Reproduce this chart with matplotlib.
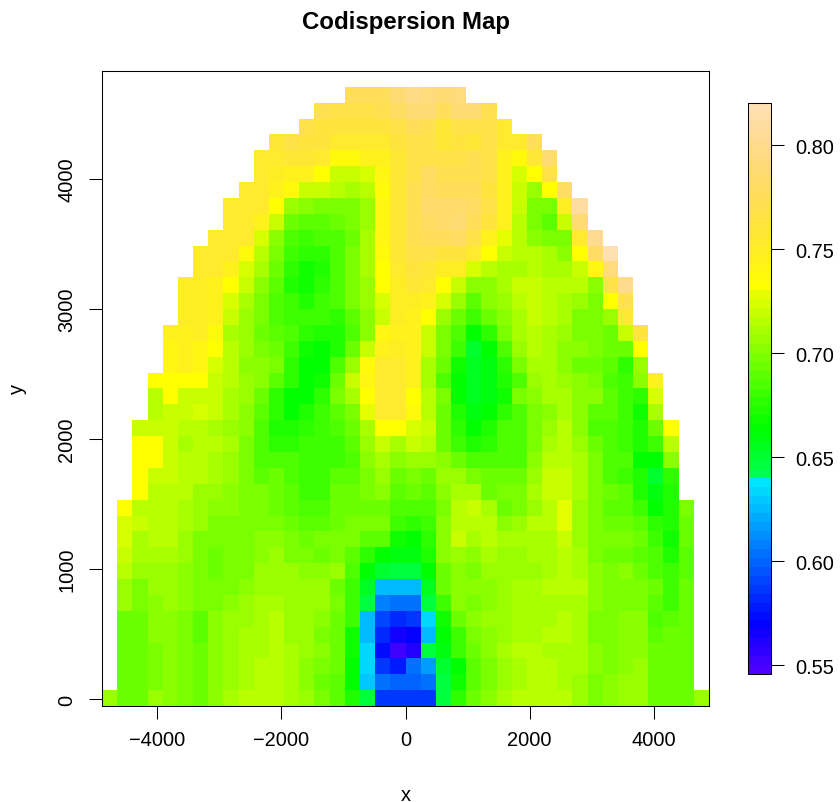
import colorsys
import matplotlib
matplotlib.use('Agg')
import matplotlib.pyplot as plt
from matplotlib.colors import ListedColormap, BoundaryNorm
import numpy as np

plt.rcParams['font.family'] = ['Liberation Sans', 'DejaVu Sans']

_ = np.nan

# codispersion values, one list per row of the grid, bottom row first
row_00 = [.707,.694,.694,.705,.701,.696,.692,.701,.709,.714,.715,.715,.712,.705,.699,.689,.674,.645,.588,.588,
          .588,.588,.645,.676,.694,.701,.71,.715,.715,.715,.714,.705,.699,.702,.707,.707,.694,.694,.694,.707]
row_01 = [_,.694,.694,.699,.701,.696,.692,.701,.707,.712,.715,.715,.71,.702,.694,.689,.665,.63,.602,.60,
          .60,.605,.645,.667,.689,.699,.707,.712,.715,.715,.712,.707,.699,.701,.705,.705,.694,.694,.692,_]
row_02 = [_,.694,.694,.699,.701,.696,.692,.701,.707,.712,.714,.714,.71,.702,.699,.692,.665,.635,.585,.58,
          .605,.615,.65,.665,.689,.699,.707,.712,.714,.714,.712,.71,.701,.699,.702,.705,.694,.694,.692,_]
row_03 = [_,.694,.694,.699,.701,.696,.692,.701,.707,.712,.712,.714,.71,.705,.701,.694,.667,.635,.575,.55,
          .56,.645,.66,.679,.694,.702,.71,.714,.714,.712,.712,.71,.701,.699,.702,.702,.692,.692,.692,_]
row_04 = [_,.694,.694,.701,.701,.696,.689,.701,.707,.712,.712,.714,.707,.705,.699,.694,.667,.625,.583,.565,
          .568,.625,.662,.679,.696,.702,.707,.712,.712,.714,.714,.71,.699,.699,.701,.701,.689,.692,.692,_]
row_05 = [_,.694,.694,.701,.702,.696,.689,.701,.705,.707,.712,.714,.707,.705,.702,.694,.679,.625,.59,.583,
          .585,.635,.667,.694,.701,.705,.707,.712,.712,.712,.714,.712,.699,.697,.701,.701,.686,.691,.692,_]
row_06 = [_,.705,.699,.702,.705,.701,.699,.699,.702,.705,.71,.71,.707,.707,.705,.699,.679,.645,.606,.605,
          .605,.645,.679,.701,.699,.702,.705,.71,.712,.712,.712,.712,.702,.699,.699,.699,.689,.681,.692,_]
row_07 = [_,.708,.699,.705,.705,.701,.697,.699,.699,.701,.707,.707,.705,.705,.705,.694,.679,.655,.625,.625,
          .625,.655,.694,.701,.702,.702,.705,.71,.712,.714,.714,.714,.702,.699,.699,.699,.694,.679,.692,_]
row_08 = [_,.715,.707,.707,.707,.702,.699,.694,.697,.699,.705,.705,.705,.702,.702,.705,.687,.662,.652,.645,
          .648,.665,.694,.701,.699,.705,.705,.705,.707,.709,.714,.712,.702,.699,.701,.694,.687,.679,.689,_]
row_09 = [_,.72,.71,.71,.71,.705,.699,.694,.697,.699,.701,.705,.699,.697,.694,.697,.689,.676,.665,.66,
          .66,.674,.701,.707,.702,.71,.707,.705,.709,.712,.717,.709,.699,.694,.694,.689,.684,.674,.691,_]
row_10 = [_,.725,.712,.714,.714,.707,.699,.699,.699,.699,.702,.701,.696,.694,.697,.697,.697,.689,.689,.668,
          .664,.676,.702,.719,.71,.717,.71,.71,.712,.712,.72,.707,.699,.696,.697,.694,.679,.668,.694,_]
row_11 = [_,.725,.719,.714,.717,.709,.705,.699,.699,.699,.699,.699,.692,.689,.691,.694,.697,.699,.699,.679,
          .676,.681,.702,.714,.717,.715,.702,.707,.714,.717,.727,.707,.697,.694,.694,.689,.676,.674,.694,_]
row_12 = [_,.733,.717,.715,.714,.712,.707,.702,.701,.697,.697,.694,.691,.687,.687,.694,.694,.694,.694,.684,
          .687,.687,.699,.717,.72,.712,.694,.699,.707,.717,.727,.707,.699,.691,.691,.681,.662,.672,.699,_]
row_13 = [_,_,.733,.717,.717,.714,.707,.707,.704,.699,.697,.694,.691,.682,.682,.692,.694,.699,.702,.689,
          .694,.691,.704,.712,.712,.694,.696,.696,.712,.719,.72,.71,.699,.692,.689,.674,.66,.674,_,_]
row_14 = [_,_,.733,.72,.719,.714,.714,.712,.707,.699,.689,.692,.687,.681,.681,.689,.691,.699,.707,.694,
          .699,.694,.705,.705,.699,.692,.692,.692,.707,.719,.72,.71,.699,.686,.679,.672,.65,.677,_,_]
row_15 = [_,_,.733,.733,.719,.714,.714,.712,.707,.699,.684,.684,.684,.681,.681,.682,.687,.702,.712,.704,
          .707,.707,.701,.694,.684,.686,.687,.687,.702,.714,.717,.709,.697,.687,.684,.665,.662,.702,_,_]
row_16 = [_,_,.733,.733,.719,.712,.714,.715,.71,.699,.684,.676,.676,.679,.682,.682,.689,.707,.72,.712,
          .72,.714,.694,.679,.672,.676,.684,.687,.699,.712,.714,.705,.694,.687,.681,.672,.679,.717,_,_]
row_17 = [_,_,.718,.718,.719,.714,.714,.71,.707,.702,.684,.672,.672,.676,.682,.687,.694,.712,.733,.733,
          .725,.72,.694,.676,.665,.672,.684,.687,.699,.707,.714,.702,.687,.686,.681,.672,.694,.733,_,_]
row_18 = [_,_,_,.714,.718,.72,.722,.72,.71,.702,.689,.676,.663,.672,.682,.689,.699,.727,.753,.753,
          .737,.717,.694,.672,.66,.662,.676,.684,.699,.702,.71,.702,.689,.689,.681,.667,.71,_,_,_]
row_19 = [_,_,_,.714,.733,.72,.72,.719,.712,.705,.694,.676,.663,.665,.676,.699,.712,.733,.753,.753,
          .733,.717,.699,.665,.655,.66,.668,.699,.701,.71,.71,.701,.701,.689,.679,.676,.725,_,_,_]
row_20 = [_,_,_,.733,.733,.733,.733,.72,.714,.705,.702,.689,.676,.662,.668,.694,.72,.741,.753,.753,
          .746,.712,.687,.665,.657,.66,.674,.687,.705,.71,.705,.701,.696,.686,.682,.701,.746,_,_,_]
row_21 = [_,_,_,_,.739,.746,.739,.725,.715,.702,.701,.699,.676,.663,.664,.684,.705,.737,.753,.753,
          .746,.712,.694,.668,.655,.66,.676,.699,.712,.71,.701,.692,.692,.689,.677,.707,_,_,_,_]
row_22 = [_,_,_,_,.741,.746,.741,.733,.717,.707,.696,.694,.682,.667,.664,.674,.694,.72,.746,.749,
          .746,.719,.697,.679,.652,.662,.687,.705,.714,.712,.702,.701,.697,.692,.694,.733,_,_,_,_]
row_23 = [_,_,_,_,.743,.746,.749,.737,.712,.707,.694,.689,.684,.676,.674,.674,.686,.702,.741,.746,
          .746,.719,.699,.686,.663,.676,.696,.71,.714,.712,.705,.699,.697,.694,.72,.762,_,_,_,_]
row_24 = [_,_,_,_,_,.749,.75,.746,.719,.707,.696,.686,.682,.679,.679,.677,.689,.702,.72,.749,
          .746,.733,.705,.694,.679,.692,.702,.712,.72,.715,.71,.699,.699,.705,.759,_,_,_,_,_]
row_25 = [_,_,_,_,_,.749,.749,.746,.722,.712,.699,.686,.679,.674,.679,.684,.699,.707,.722,.749,
          .749,.743,.725,.707,.689,.701,.705,.714,.719,.717,.712,.707,.696,.733,.771,_,_,_,_,_]
row_26 = [_,_,_,_,_,.75,.75,.746,.733,.72,.702,.689,.674,.668,.676,.686,.699,.708,.733,.75,
          .759,.753,.733,.72,.704,.701,.71,.719,.719,.717,.714,.714,.702,.766,.80,_,_,_,_,_]
row_27 = [_,_,_,_,_,_,.753,.753,.746,.725,.71,.694,.677,.667,.674,.684,.699,.712,.733,.755,
          .762,.759,.749,.749,.725,.714,.71,.71,.717,.712,.712,.72,.741,.793,_,_,_,_,_,_]
row_28 = [_,_,_,_,_,_,.753,.753,.753,.737,.717,.699,.682,.676,.676,.687,.697,.71,.737,.757,
          .766,.766,.762,.762,.753,.733,.72,.714,.714,.712,.704,.733,.78,.816,_,_,_,_,_,_]
row_29 = [_]*7 + [.753,.753,.753,.725,.702,.687,.682,.684,.684,.694,.71,.741,.757,
          .771,.775,.775,.78,.766,.746,.727,.714,.704,.699,.696,.753,.80] + [_]*7
row_30 = [_]*8 + [.753,.753,.743,.72,.694,.689,.689,.694,.699,.707,.741,.757,
          .771,.78,.783,.787,.775,.762,.743,.717,.699,.689,.72,.787] + [_]*8
row_31 = [_]*8 + [.753,.753,.753,.733,.707,.702,.699,.699,.699,.707,.741,.757,
          .771,.783,.783,.783,.78,.766,.746,.719,.699,.697,.749,.811] + [_]*8
row_32 = [_]*9 + [.753,.753,.746,.737,.72,.718,.714,.712,.717,.737,.757,
          .771,.78,.775,.775,.775,.762,.746,.72,.707,.733,.78] + [_]*9
row_33 = [_]*10 + [.753,.749,.746,.746,.733,.72,.72,.722,.741,.757,
          .766,.78,.771,.771,.771,.766,.746,.725,.733,.766] + [_]*10
row_34 = [_]*10 + [.753,.753,.757,.757,.753,.737,.737,.743,.746,.759,
          .766,.766,.766,.766,.771,.766,.746,.737,.759,.787] + [_]*10
row_35 = [_]*11 + [.759,.766,.762,.762,.753,.753,.753,.753,.762,
          .766,.766,.759,.762,.759,.766,.753,.753,.775] + [_]*11
row_36 = [_]*13 + [.766,.762,.762,.762,.762,.762,.766,
          .775,.771,.759,.766,.766,.766,.753] + [_]*13
row_37 = [_]*14 + [.771,.766,.766,.766,.771,.78,
          .787,.787,.775,.787,.79,.771] + [_]*14
row_38 = [_]*16 + [.775,.775,.775,.787,.796,.791,.787,.793] + [_]*16
row_39 = [_]*40

x_ticks = [-4000, -2000, 0, 2000, 4000]
x_tick_labels = ['\u22124000', '\u22122000', '0', '2000', '4000']
y_ticks = [0, 1000, 2000, 3000, 4000]
bar_ticks = [0.55, 0.60, 0.65, 0.70, 0.75, 0.80]

def topo_colors(n):
    # same recipe as R's topo.colors
    j = n // 3
    k = n // 3
    i = n - j - k
    cols = [colorsys.hsv_to_rgb(h, 1, 1) for h in np.linspace(43/60, 31/60, i)]
    cols += [colorsys.hsv_to_rgb(h, 1, 1) for h in np.linspace(23/60, 11/60, j)]
    cols += [colorsys.hsv_to_rgb(h, s, 1) for h, s in zip(np.linspace(10/60, 6/60, k), np.linspace(1, 0.3, k))]
    return cols

rows = [row_00, row_01, row_02, row_03, row_04, row_05, row_06, row_07, row_08, row_09,
        row_10, row_11, row_12, row_13, row_14, row_15, row_16, row_17, row_18, row_19,
        row_20, row_21, row_22, row_23, row_24, row_25, row_26, row_27, row_28, row_29,
        row_30, row_31, row_32, row_33, row_34, row_35, row_36, row_37, row_38, row_39]
z = np.ma.masked_invalid(np.array(rows))

W, H = 840, 803
fig = plt.figure(figsize=(W/100, H/100), dpi=100)
ax = fig.add_axes([102/W, 1-707/H, 607/W, 635/H])
cax = fig.add_axes([748/W, 1-675/H, 23/W, 571/H])

x_edges = np.linspace(-4895, 4895, 41)
y_edges = np.linspace(-54, 4831, 41)
cmap = ListedColormap(topo_colors(64))
norm = BoundaryNorm(np.linspace(0.5457, 0.8202, 65), 64)

mesh = ax.pcolormesh(x_edges, y_edges, z, cmap=cmap, norm=norm, antialiased=False, linewidth=0)
ax.set_xlim(x_edges[0], x_edges[-1])
ax.set_ylim(y_edges[0], y_edges[-1])
ax.set_xticks(x_ticks)
ax.set_xticklabels(x_tick_labels)
ax.set_yticks(y_ticks)
ax.set_yticklabels([str(v) for v in y_ticks], rotation=90, va='center')
ax.tick_params(length=9.4, width=0.75, labelsize=14.4, pad=8)
ax.tick_params(axis='y', pad=9)
for s in ax.spines.values():
    s.set_linewidth(0.75)

ax.set_xlabel('x', fontsize=14.4, va='center')
ax.xaxis.set_label_coords(0.5, -0.139)
ax.set_ylabel('y', fontsize=14.4, va='center')
ax.yaxis.set_label_coords(-0.14, 0.5)

cb = fig.colorbar(mesh, cax=cax, drawedges=False, spacing='proportional')
cb.set_ticks(bar_ticks)
cb.set_ticklabels(['%.2f' % v for v in bar_ticks])
cb.ax.minorticks_off()
cb.ax.tick_params(length=9.4, width=0.75, labelsize=14.4, pad=8)
cb.outline.set_linewidth(0.75)

fig.text(405.5/W, 1-22/H, 'Codispersion Map', fontsize=17.28, fontweight='bold', ha='center', va='center')

fig.savefig('out.png', dpi=100)
